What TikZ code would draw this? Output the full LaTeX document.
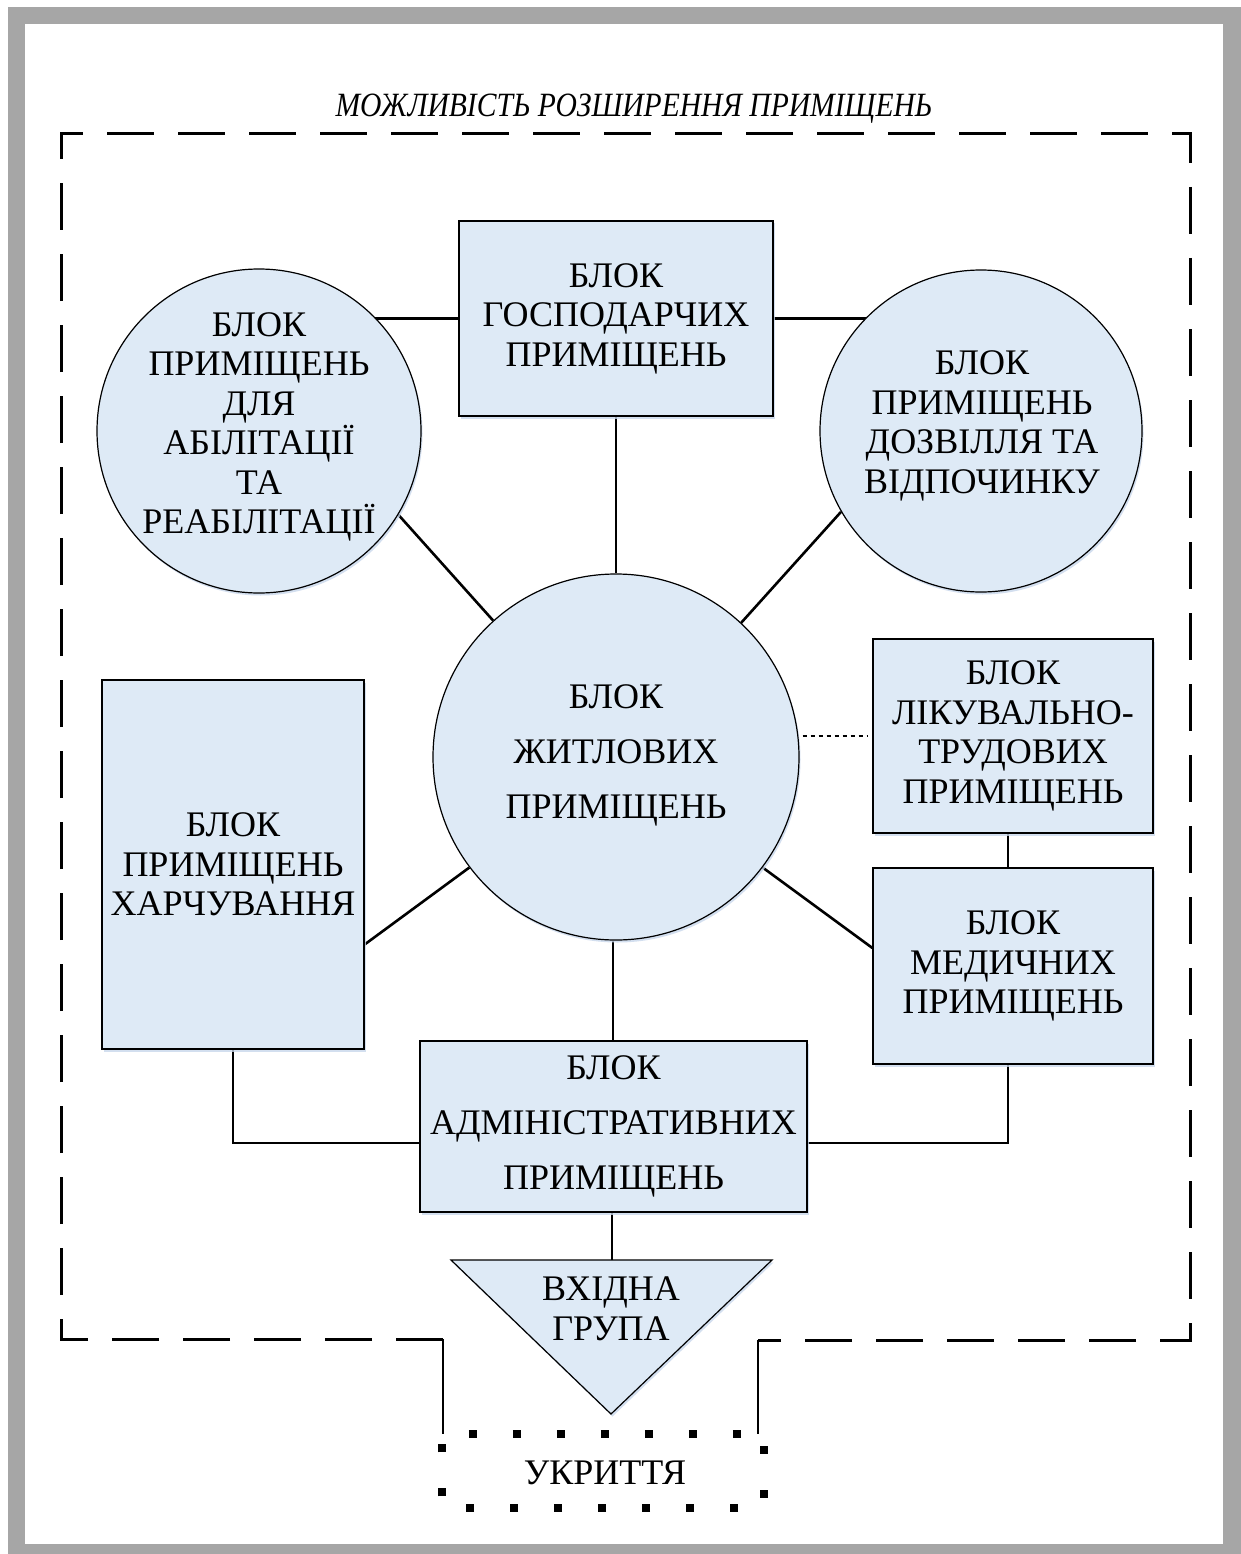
\documentclass[tikz,border=0pt]{standalone}
\usepackage{fontspec}
\setmainfont{Liberation Serif}
\usetikzlibrary{calc,shadows}
\definecolor{blockfill}{HTML}{DEEAF6}
\definecolor{framegray}{HTML}{A6A6A6}
\definecolor{shadowblue}{HTML}{C9D7EC}
\pgfdeclarelayer{back}
\pgfdeclarelayer{wires}
\pgfsetlayers{back,wires,main}
\newcommand\blkfont{\fontsize{36}{39.5}\selectfont}
\newcommand\wideblkfont{\fontsize{36}{55}\selectfont}
\tikzset{
  blk/.style={draw=black, line width=1.2pt, fill=blockfill,
    drop shadow={shadow xshift=1.5pt, shadow yshift=-2.5pt, fill=shadowblue, opacity=0.8}},
  boxblk/.style={blk, rectangle, inner sep=0pt, align=center, font=\blkfont},
  circblk/.style={blk, circle, inner sep=0pt},
  lbl/.style={align=center, inner sep=0pt, font=\blkfont},
  wire/.style={line width=2.6pt},
  dotwire/.style={line width=2.6pt, dash pattern=on 4.5pt off 3.5pt},
  framedash/.style={line width=3pt, dash pattern=on 47pt off 24pt},
  shelterdots/.style={line width=8pt, dash pattern=on 8pt off 36pt, dash phase=17pt},
}
\begin{document}
\begin{tikzpicture}[x=1pt, y=-1pt]
\useasboundingbox (0,0) rectangle (1241,1554);

% page frame
\begin{pgfonlayer}{back}
  \fill[white] (0,0) rectangle (1241,1554);
  \fill[framegray] (8,7) rectangle (1241,1554);
  \fill[white] (25,24) rectangle (1223,1544);
\end{pgfonlayer}

% title
\node[font=\fontsize{34}{36}\selectfont\itshape, inner sep=0pt] (T) at (634,109)
  {\scalebox{0.87}[1]{МОЖЛИВІСТЬ РОЗШИРЕННЯ ПРИМІЩЕНЬ}};

% blocks
\node[boxblk, minimum height=195pt, text width=314pt] (G) at (616,318.5)
  {БЛОК\\ГОСПОДАРЧИХ\\ПРИМІЩЕНЬ};
\node[circblk, minimum size=324pt] (A) at (259,431) {};
\node[lbl] (At) at (259,427)
  {БЛОК\\ПРИМІЩЕНЬ\\ДЛЯ\\АБІЛІТАЦІЇ\\ТА\\РЕАБІЛІТАЦІЇ};
\node[circblk, minimum size=322pt] (D) at (981,431) {};
\node[lbl] (Dt) at (982,426)
  {БЛОК\\ПРИМІЩЕНЬ\\ДОЗВІЛЛЯ ТА\\ВІДПОЧИНКУ};
\node[circblk, minimum size=366pt] (C) at (616,757) {};
\node[lbl, font=\wideblkfont] (Ct) at (616,755)
  {БЛОК\\ЖИТЛОВИХ\\ПРИМІЩЕНЬ};
\node[boxblk, minimum height=369pt, text width=262pt] (H) at (233,864.5)
  {БЛОК\\ПРИМІЩЕНЬ\\ХАРЧУВАННЯ};
\node[boxblk, minimum height=194pt, text width=280pt] (K) at (1013,736)
  {БЛОК\\ЛІКУВАЛЬНО-\\ТРУДОВИХ\\ПРИМІЩЕНЬ};
\node[boxblk, minimum height=196pt, text width=280pt] (M) at (1013,966)
  {БЛОК\\МЕДИЧНИХ\\ПРИМІЩЕНЬ};
\node[boxblk, minimum height=171pt, text width=387pt, font=\wideblkfont] (Adm) at (613.5,1126.5)
  {БЛОК\\АДМІНІСТРАТИВНИХ\\ПРИМІЩЕНЬ};

% entrance triangle
\coordinate (V1) at (451,1260);
\coordinate (V2) at (772,1260);
\coordinate (V3) at (611,1414);
\path[blk] (V1) -- (V2) -- (V3) -- cycle;
\node[lbl] (V) at (611,1309) {ВХІДНА\\ГРУПА};

% shelter
\node[inner sep=0pt, minimum width=322pt, minimum height=74pt] (S) at (603,1471) {};
\draw[shelterdots] (S.north west) -- (S.north east) -- (S.south east)
  -- (S.south west) -- cycle;
\node[lbl] (St) at (605,1473) {УКРИТТЯ};

% extension boundary
\coordinate (FL) at (443,1339);
\coordinate (FR) at (758,1340);
\coordinate (F1) at (61,1339);
\coordinate (F2) at (61,134);
\coordinate (F3) at (1190,134);
\coordinate (F4) at (1190,1340);
\draw[framedash] (FL) -- (F1) -- (F2) -- (F3) -- (F4) -- (FR);
\draw[wire] (FL) -- (FL |- S.north);
\draw[wire] (FR) -- (FR |- S.north);

% links between blocks
\begin{pgfonlayer}{wires}
  \draw[wire] (G.west) -- (G.west -| A.center);
  \draw[wire] (G.east) -- (G.east -| D.center);
  \draw[wire] (G.south) -- (C.north);
  \draw[wire] (A.-31) -- (C.132);
  \draw[wire] (D.-150) -- (C.47.4);
  \draw[wire] (C.217) -- ([yshift=-80pt]H.east);
  \draw[wire] (C.-37) -- ([yshift=18pt]M.west);
  \draw[wire] ([xshift=-3pt]C.south) -- ([xshift=-3pt]C.south |- Adm.north);
  \draw[wire] (H.south) |- ([yshift=-16.5pt]Adm.west);
  \draw[wire] ([xshift=-5pt]M.south) |- ([yshift=-16.5pt]Adm.east);
  \draw[wire] ([xshift=-5pt]K.south) -- ([xshift=-5pt]M.north);
  \draw[wire] ([xshift=-1.5pt]Adm.south) -- ([xshift=-1.5pt]Adm.south |- V1);
\end{pgfonlayer}
\draw[dotwire, shorten <=3pt, shorten >=4pt] (K.west -| C.east) -- (K.west);

\end{tikzpicture}
\end{document}
